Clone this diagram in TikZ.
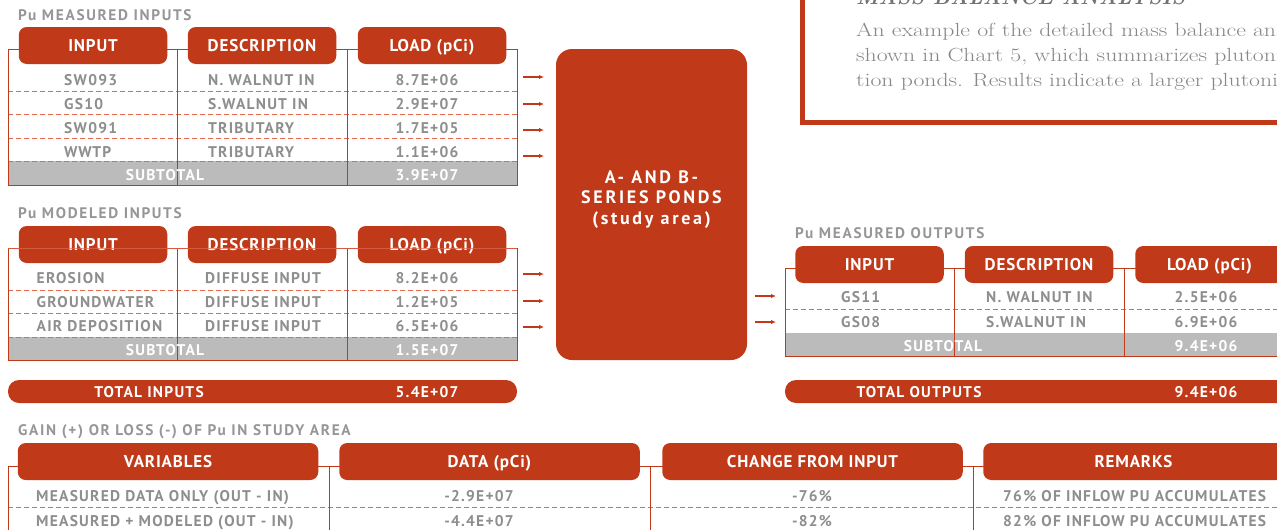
\documentclass[tikz,border=0pt]{standalone}
\usepackage{fontspec}
\usetikzlibrary{arrows.meta}
\newfontfamily\sfh{PT Sans}[LetterSpace=5]
\newfontfamily\sfc{PT Sans}[LetterSpace=8]
\newfontfamily\sft{PT Sans}[LetterSpace=11]
\newfontfamily\sfq{PT Sans}[LetterSpace=15]
\definecolor{pored}{RGB}{192,57,24}
\definecolor{txtgray}{RGB}{142,142,142}
\definecolor{ttlgray}{RGB}{150,150,150}
\definecolor{subgray}{RGB}{187,187,187}
\definecolor{dashred}{RGB}{225,105,80}
\definecolor{paragray}{RGB}{135,135,135}
\newcommand\hdrfont{\sfh\bfseries\fontsize{17}{19}\selectfont}
\newcommand\cellfont{\sfc\bfseries\fontsize{15.5}{17}\selectfont}
\newcommand\ttlfont{\sft\bfseries\fontsize{15.3}{17}\selectfont}
\newcommand\pondfont{\sfq\bfseries\fontsize{18}{20.5}\selectfont}
\newcommand\parafont{\fontsize{19}{24.8}\selectfont}
\tikzset{
  pill/.style={fill=pored, rounded corners=8pt, text=white, font=\hdrfont,
    minimum height=37pt, inner sep=0pt, text height=11.9pt, text depth=0pt},
  pillw/.style={pill, minimum width=148.5pt},
  pillv/.style={pill, minimum width=300.5pt},
  totpill/.style={fill=pored, rounded corners=11pt, minimum height=23pt, inner sep=0pt},
  ttl/.style={anchor=base west, inner sep=0pt, text=ttlgray, font=\ttlfont},
  cl/.style={anchor=base west, inner sep=0pt, text=txtgray, font=\cellfont},
  cc/.style={anchor=base, inner sep=0pt, text=txtgray, font=\cellfont},
  wc/.style={anchor=base, inner sep=0pt, text=white, font=\cellfont},
  tline/.style={draw=pored, line width=1pt},
  dline/.style={draw=dashred, line width=0.9pt, dash pattern=on 5pt off 3pt},
  arr/.style={draw=pored, line width=1.4pt, -{Latex[length=5pt,width=4.5pt]}},
  pond/.style={fill=pored, rounded corners=16pt, minimum width=191pt, minimum height=311pt, inner sep=0pt},
  pondtxt/.style={text=white, font=\pondfont, align=center, inner sep=0pt},
  para/.style={anchor=base west, inner sep=0pt, text=paragray, font=\parafont}
}
\begin{document}
\begin{tikzpicture}[x=1pt,y=-1pt]
\useasboundingbox (0,0) rectangle (1277,530);
\clip (0,0) rectangle (1277,530);

% ---------- top-right text box ----------
\draw[draw=pored, line width=5pt] (802,-20) -- (802,122) -- (1300,122);
\node[anchor=base west, inner sep=0pt, text=gray!90!black, font=\fontsize{21}{24}\selectfont\bfseries\itshape] (mbtitle) at (856,5) {MASS BALANCE ANALYSIS};
\node[para] (p1) at (856,36) {\scalebox{1.25}[1]{An example of the detailed mass balance analysis}};
\node[para] (p2) at (856,61) {\scalebox{1.25}[1]{shown in Chart 5, which summarizes plutonium}};
\node[para] (p3) at (856,86) {\scalebox{1.25}[1]{tion ponds. Results indicate a larger plutonium}};

% ---------- Table 1: measured inputs ----------
\node[ttl] (t1) at (18,20) {Pu MEASURED INPUTS};
\fill[subgray] (8,161) rectangle (517,185);
\foreach \yy in {91,114.5,138,161} \draw[dline] (8,\yy) -- (517,\yy);
\draw[tline] (8,49) rectangle (517,185);
\draw[tline] (177,49) -- (177,185);
\draw[tline] (347,49) -- (347,185);
\node[pillw] (t1h1) at (93,45.5) {INPUT};
\node[pillw] (t1h2) at (262,45.5) {DESCRIPTION};
\node[pillw] (t1h3) at (432,45.5) {LOAD (pCi)};
\node[cl] (t1a1) at (64,85) {SW093};
\node[cl] (t1b1) at (208,85) {N. WALNUT IN};
\node[cc] (t1c1) at (427,85) {8.7E+06};
\node[cl] (t1a2) at (64,109) {GS10};
\node[cl] (t1b2) at (208,109) {S.WALNUT IN};
\node[cc] (t1c2) at (427,109) {2.9E+07};
\node[cl] (t1a3) at (64,133) {SW091};
\node[cl] (t1b3) at (208,133) {TRIBUTARY};
\node[cc] (t1c3) at (427,133) {1.7E+05};
\node[cl] (t1a4) at (64,157) {WWTP};
\node[cl] (t1b4) at (208,157) {TRIBUTARY};
\node[cc] (t1c4) at (427,157) {1.1E+06};
\node[wc] (t1s) at (165,180) {SUBTOTAL};
\node[wc] (t1sv) at (427,180) {3.9E+07};

% ---------- Table 2: modeled inputs ----------
\node[ttl] (t2) at (18,218) {Pu MODELED INPUTS};
\fill[subgray] (8,337) rectangle (517,360);
\foreach \yy in {290,313,337} \draw[dline] (8,\yy) -- (517,\yy);
\draw[tline] (8,248) rectangle (517,360);
\draw[tline] (177,248) -- (177,360);
\draw[tline] (347,248) -- (347,360);
\node[pillw] (t2h1) at (93,244.5) {INPUT};
\node[pillw] (t2h2) at (262,244.5) {DESCRIPTION};
\node[pillw] (t2h3) at (432,244.5) {LOAD (pCi)};
\draw[draw=dashred, line width=0.6pt, opacity=0.7] (8,248) -- (517,248);
\node[cl] (t2a1) at (36.5,283) {EROSION};
\node[cl] (t2b1) at (205,283) {DIFFUSE INPUT};
\node[cc] (t2c1) at (427,283) {8.2E+06};
\node[cl] (t2a2) at (36.5,307) {GROUNDWATER};
\node[cl] (t2b2) at (205,307) {DIFFUSE INPUT};
\node[cc] (t2c2) at (427,307) {1.2E+05};
\node[cl] (t2a3) at (36.5,331) {AIR DEPOSITION};
\node[cl] (t2b3) at (205,331) {DIFFUSE INPUT};
\node[cc] (t2c3) at (427,331) {6.5E+06};
\node[wc] (t2s) at (165,355) {SUBTOTAL};
\node[wc] (t2sv) at (427,355) {1.5E+07};

% total inputs
\node[totpill, minimum width=509pt] (totin) at (262.5,391.5) {};
\node[wc] (totinl) at (149,397) {TOTAL INPUTS};
\node[wc] (totinv) at (427,397) {5.4E+07};

% ---------- central pond ----------
\node[pond] (pond) at (651.5,204.5) {};
\node[pondtxt] (pondlbl) at ([yshift=5pt]pond.center) {A- AND B-\\SERIES PONDS\\(study area)};

% ---------- arrows ----------
\foreach \i/\yy in {1/77,2/104,3/130,4/156,5/274,6/301,7/327}{
  \coordinate (as\i) at (523,\yy);
  \coordinate (ae\i) at (544,\yy);
  \draw[arr] (as\i) -- (ae\i);
}
\foreach \i/\yy in {8/296,9/322}{
  \coordinate (as\i) at (755,\yy);
  \coordinate (ae\i) at (776,\yy);
  \draw[arr] (as\i) -- (ae\i);
}

% ---------- Table 3: measured outputs ----------
\node[ttl] (t3) at (795,238) {Pu MEASURED OUTPUTS};
\fill[subgray] (785,333) rectangle (1290,356);
\draw[dline] (785,309) -- (1290,309);
\draw[tline] (785,268) rectangle (1290,356);
\draw[tline] (954,268) -- (954,356);
\draw[tline] (1124,268) -- (1124,356);
\node[pillw] (t3h1) at (869.5,264.5) {INPUT};
\node[pillw] (t3h2) at (1039,264.5) {DESCRIPTION};
\node[pillw] (t3h3) at (1209.5,264.5) {LOAD (pCi)};
\node[cl] (t3a1) at (841,302) {GS11};
\node[cl] (t3b1) at (986,302) {N. WALNUT IN};
\node[cc] (t3c1) at (1206,302) {2.5E+06};
\node[cl] (t3a2) at (841,327) {GS08};
\node[cl] (t3b2) at (986,327) {S.WALNUT IN};
\node[cc] (t3c2) at (1206,327) {6.9E+06};
\node[wc] (t3s) at (943,351) {SUBTOTAL};
\node[wc] (t3sv) at (1206,351) {9.4E+06};

% total outputs
\node[totpill, minimum width=520pt] (totout) at (1045,391.5) {};
\node[wc] (totoutl) at (919,397) {TOTAL OUTPUTS};
\node[wc] (totoutv) at (1206,397) {9.4E+06};

% ---------- Table 4: gain or loss ----------
\node[ttl] (t4) at (18,435) {GAIN (+) OR LOSS (-) OF Pu IN STUDY AREA};
\draw[dline] (8,507) -- (1290,507);
\draw[tline] (8,540) -- (8,466) -- (1290,466);
\draw[tline] (329,466) -- (329,540);
\draw[tline] (650,466) -- (650,540);
\draw[tline] (973,466) -- (973,540);
\node[pillv] (t4h1) at (168,461.5) {VARIABLES};
\node[pillv] (t4h2) at (489.5,461.5) {DATA (pCi)};
\node[pillv] (t4h3) at (812.5,461.5) {CHANGE FROM INPUT};
\node[pillv] (t4h4) at (1133.5,461.5) {REMARKS};
\node[cl] (t4a1) at (36,501) {MEASURED DATA ONLY (OUT - IN)};
\node[cc] (t4b1) at (479,501) {-2.9E+07};
\node[cc] (t4c1) at (812,501) {-76\%};
\node[cl] (t4d1) at (1003,501) {76\% OF INFLOW PU ACCUMULATES};
\node[cl] (t4a2) at (36,526) {MEASURED + MODELED (OUT - IN)};
\node[cc] (t4b2) at (479,526) {-4.4E+07};
\node[cc] (t4c2) at (812,526) {-82\%};
\node[cl] (t4d2) at (1003,526) {82\% OF INFLOW PU ACCUMULATES};
\end{tikzpicture}
\end{document}
